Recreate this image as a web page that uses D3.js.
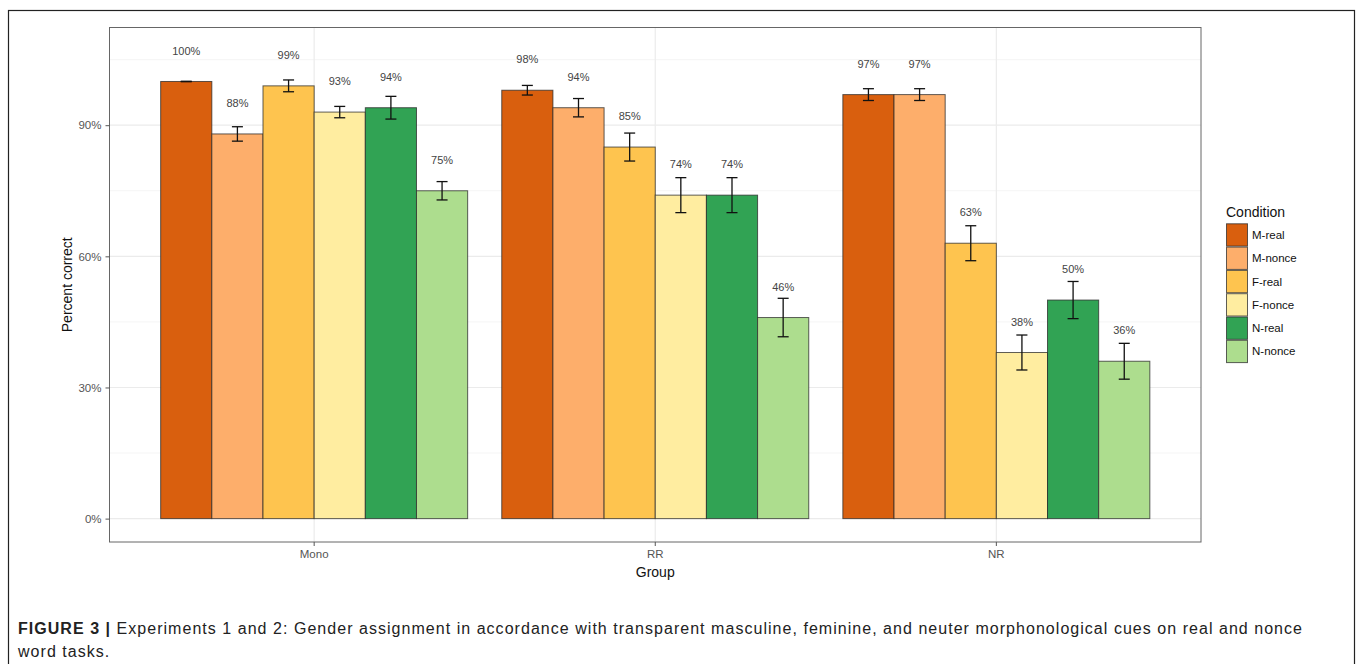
<!DOCTYPE html>
<html>
<head>
<meta charset="utf-8">
<script src="https://cdn.jsdelivr.net/npm/d3@7"></script>
<style>
  html, body { margin: 0; padding: 0; background: #fff; }
  svg { display: block; font-family: "Liberation Sans", Arial, Helvetica, sans-serif; }
</style>
</head>
<body>
<svg id="chart" width="1358" height="664"></svg>
<script>
// Groups on the x axis and the six conditions dodged within each group
const groups = ["Mono", "RR", "NR"];
const conditions = ["M-real", "M-nonce", "F-real", "F-nonce", "N-real", "N-nonce"];
const colors = ["#d95f0e", "#fdae6b", "#fec44f", "#ffeda0", "#31a354", "#addd8e"];

// Percent correct per group (rows) and condition (columns)
const monoValues = [100, 88, 99, 93, 94, 75];
const rrValues   = [98, 94, 85, 74, 74, 46];
const nrValues   = [97, 97, 63, 38, 50, 36];

// Standard error half-widths (percentage points)
const monoErrors = [0.05, 1.65, 1.35, 1.3, 2.6, 2.1];
const rrErrors   = [1.1, 2.1, 3.2, 4.0, 4.0, 4.4];
const nrErrors   = [1.35, 1.35, 4.0, 4.0, 4.25, 4.1];

const yTicks = [0, 30, 60, 90];
const yMinorTicks = [15, 45, 75, 105];

const valuesByGroup = { Mono: monoValues, RR: rrValues, NR: nrValues };
const errorsByGroup = { Mono: monoErrors, RR: rrErrors, NR: nrErrors };

const rows = [];
groups.forEach(g => conditions.forEach((c, i) => {
  rows.push({ group: g, condition: c, value: valuesByGroup[g][i], se: errorsByGroup[g][i] });
}));

const svg = d3.select("#chart");

// Outer figure frame
svg.append("rect")
  .attr("x", 8.5).attr("y", 10.5).attr("width", 1346).attr("height", 700)
  .attr("fill", "none").attr("stroke", "#222").attr("stroke-width", 1.2);

// Panel geometry
const panel = { left: 109.5, right: 1201, top: 27.5, bottom: 542 };

const x0 = d3.scaleBand().domain(groups)
  .range([panel.left, panel.right]).paddingInner(0.1).paddingOuter(0.15);
const x1 = d3.scaleBand().domain(conditions).range([0, x0.bandwidth()]);
const y = d3.scaleLinear().domain([-5.35, 112.35]).range([panel.bottom, panel.top]);
const color = d3.scaleOrdinal().domain(conditions).range(colors);

const g = svg.append("g");

// Minor and major gridlines
g.selectAll(".minor").data(yMinorTicks).join("line")
  .attr("x1", panel.left).attr("x2", panel.right)
  .attr("y1", d => y(d)).attr("y2", d => y(d))
  .attr("stroke", "#f2f2f2").attr("stroke-width", 0.8);
g.selectAll(".major").data(yTicks).join("line")
  .attr("x1", panel.left).attr("x2", panel.right)
  .attr("y1", d => y(d)).attr("y2", d => y(d))
  .attr("stroke", "#ebebeb").attr("stroke-width", 1.2);
g.selectAll(".vmajor").data(groups).join("line")
  .attr("x1", d => x0(d) + x0.bandwidth() / 2).attr("x2", d => x0(d) + x0.bandwidth() / 2)
  .attr("y1", panel.top).attr("y2", panel.bottom)
  .attr("stroke", "#ebebeb").attr("stroke-width", 1.2);

// Bars
g.selectAll(".bar").data(rows).join("rect")
  .attr("x", d => x0(d.group) + x1(d.condition))
  .attr("y", d => y(d.value))
  .attr("width", x1.bandwidth())
  .attr("height", d => y(0) - y(d.value))
  .attr("fill", d => color(d.condition))
  .attr("stroke", "#2a2a2a").attr("stroke-opacity", 0.75).attr("stroke-width", 1);

// Error bars
const cap = 5.5;
const cx = d => x0(d.group) + x1(d.condition) + x1.bandwidth() / 2;
const eb = g.selectAll(".err").data(rows).join("g")
  .attr("stroke", "#111").attr("stroke-width", 1.3);
eb.append("line")
  .attr("x1", cx).attr("x2", cx)
  .attr("y1", d => y(d.value + d.se)).attr("y2", d => y(d.value - d.se));
eb.append("line")
  .attr("x1", d => cx(d) - cap).attr("x2", d => cx(d) + cap)
  .attr("y1", d => y(d.value + d.se)).attr("y2", d => y(d.value + d.se));
eb.append("line")
  .attr("x1", d => cx(d) - cap).attr("x2", d => cx(d) + cap)
  .attr("y1", d => y(d.value - d.se)).attr("y2", d => y(d.value - d.se));

// Value labels above each bar
g.selectAll(".lbl").data(rows).join("text")
  .attr("x", cx)
  .attr("y", d => y(d.value + 7))
  .attr("dy", "0.35em")
  .attr("text-anchor", "middle")
  .attr("font-size", 11)
  .attr("fill", "#444")
  .text(d => d.value + "%");

// Panel border
svg.append("rect")
  .attr("x", panel.left).attr("y", panel.top)
  .attr("width", panel.right - panel.left).attr("height", panel.bottom - panel.top)
  .attr("fill", "none").attr("stroke", "#666").attr("stroke-width", 1);

// Axes
const yAxis = d3.axisLeft(y).tickValues(yTicks).tickFormat(d => d + "%").tickSizeOuter(0).tickSize(4).tickPadding(4);
const ya = svg.append("g").attr("transform", `translate(${panel.left},0)`).call(yAxis);
ya.select(".domain").remove();
ya.selectAll(".tick line").attr("stroke", "#555");
ya.selectAll(".tick text").attr("font-size", 11.5).attr("fill", "#555").attr("font-family", null);

const xAxis = d3.axisBottom(x0).tickSizeOuter(0).tickSize(4).tickPadding(4);
const xa = svg.append("g").attr("transform", `translate(0,${panel.bottom})`).call(xAxis);
xa.select(".domain").remove();
xa.selectAll(".tick line").attr("stroke", "#555");
xa.selectAll(".tick text").attr("font-size", 11.5).attr("fill", "#555").attr("font-family", null);

// Axis titles
svg.append("text")
  .attr("x", (panel.left + panel.right) / 2).attr("y", 577)
  .attr("text-anchor", "middle").attr("font-size", 14).attr("fill", "#111")
  .text("Group");
svg.append("text")
  .attr("transform", `translate(72,${(panel.top + panel.bottom) / 2}) rotate(-90)`)
  .attr("text-anchor", "middle").attr("font-size", 14).attr("fill", "#111")
  .text("Percent correct");

// Legend
const legend = svg.append("g").attr("transform", "translate(1226,0)");
legend.append("text").attr("x", 0).attr("y", 217)
  .attr("font-size", 14).attr("fill", "#111").text("Condition");
const keyH = 23.3, keyW = 21, keyTop = 223.3;
const items = legend.selectAll(".item").data(conditions).join("g")
  .attr("transform", (d, i) => `translate(0,${keyTop + i * keyH})`);
items.append("rect")
  .attr("x", 0.5).attr("y", 0.5).attr("width", keyW).attr("height", keyH - 1)
  .attr("fill", d => color(d))
  .attr("stroke", "#2a2a2a").attr("stroke-opacity", 0.75).attr("stroke-width", 1);
items.append("text")
  .attr("x", keyW + 5).attr("y", keyH / 2).attr("dy", "0.35em")
  .attr("font-size", 11.5).attr("fill", "#111").text(d => d);

// Caption, spaced out to fill the frame width
const captionWidth = 1285;
const cap1 = svg.append("text").attr("x", 18).attr("y", 634)
  .attr("font-size", 16).attr("fill", "#222");
cap1.append("tspan").attr("font-weight", "bold").text("FIGURE 3 | ");
cap1.append("tspan").text("Experiments 1 and 2: Gender assignment in accordance with transparent masculine, feminine, and neuter morphonological cues on real and nonce");
const cap2 = svg.append("text").attr("x", 18).attr("y", 657)
  .attr("font-size", 16).attr("fill", "#222")
  .text("word tasks.");
const natural = cap1.node().getComputedTextLength();
const nChars = cap1.text().length;
const spacing = Math.max(0, (captionWidth - natural) / nChars);
cap1.attr("letter-spacing", spacing);
cap2.attr("letter-spacing", spacing);
</script>
</body>
</html>
